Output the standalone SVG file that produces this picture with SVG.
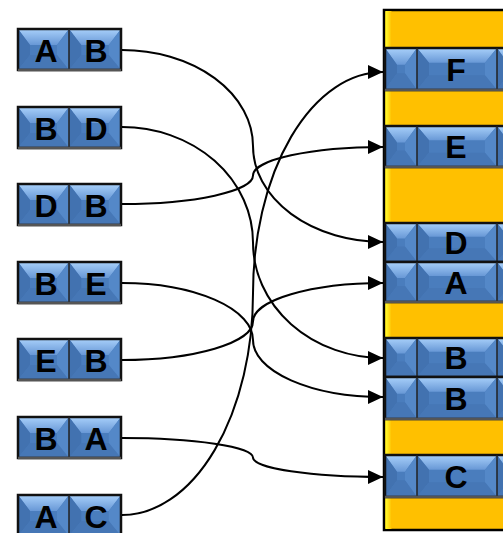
<svg xmlns="http://www.w3.org/2000/svg" width="503" height="533" viewBox="0 0 503 533">
<style>
.lbl{font-family:"Liberation Sans",Arial,sans-serif;font-weight:bold;font-size:32px;fill:#000;text-anchor:middle}
.con{fill:none;stroke:#000;stroke-width:2;marker-end:url(#ah)}
.out{fill:none;stroke:#111;stroke-width:2.5}
.sh{stroke:#555;stroke-width:2.5}
.div{stroke:#222;stroke-width:1.5}
</style>
<defs>
<linearGradient id="tg" x1="0" y1="0" x2="0" y2="1">
<stop offset="0" stop-color="#a8d0fa"/>
<stop offset="1" stop-color="#6898d6"/>
</linearGradient>
<linearGradient id="yg" x1="0" y1="0" x2="1" y2="0">
<stop offset="0" stop-color="#ffff30"/>
<stop offset="1" stop-color="#ffc000"/>
</linearGradient>
<marker id="ah" markerUnits="userSpaceOnUse" markerWidth="15" markerHeight="14" refX="15" refY="7" orient="auto">
<path d="M0,0 L15,7 L0,14 z" fill="#000"/>
</marker>
<symbol id="cL" viewBox="0 0 51 41" preserveAspectRatio="none">
<rect width="51" height="41" fill="#4a7dbd"/>
<polygon points="0,0 51,0 39,16 12,16" fill="url(#tg)"/>
<polygon points="0,0 12,16 12,26 0,41" fill="#4272b0"/>
<polygon points="51,0 39,16 39,26 51,41" fill="#5488c8"/>
<polygon points="0,41 12,26 39,26 51,41" fill="#4677b6"/>
</symbol>
<symbol id="cS" viewBox="0 0 32 40" preserveAspectRatio="none">
<rect width="32" height="40" fill="#4a7dbd"/>
<polygon points="0,0 32,0 20,16 12,16" fill="url(#tg)"/>
<polygon points="0,0 12,16 12,24 0,40" fill="#4272b0"/>
<polygon points="32,0 20,16 20,24 32,40" fill="#5488c8"/>
<polygon points="0,40 12,24 20,24 32,40" fill="#4677b6"/>
</symbol>
<symbol id="cB" viewBox="0 0 80 40" preserveAspectRatio="none">
<rect width="80" height="40" fill="#4a7dbd"/>
<polygon points="0,0 80,0 68,14 12,14" fill="url(#tg)"/>
<polygon points="0,0 12,14 12,26 0,40" fill="#4272b0"/>
<polygon points="80,0 68,14 68,26 80,40" fill="#5488c8"/>
<polygon points="0,40 12,26 68,26 80,40" fill="#4677b6"/>
</symbol>
</defs>

<g id="column">
<rect x="384" y="10" width="125" height="520" fill="#ffc000" stroke="#000" stroke-width="2.5"/>
<rect x="385.5" y="11" width="6" height="518" fill="url(#yg)"/>
</g>

<g id="r-F">
<use href="#cS" x="385" y="48" width="32" height="42"/>
<use href="#cB" x="417" y="48" width="80" height="42"/>
<use href="#cS" x="497" y="48" width="32" height="42"/>
<rect x="385" y="48" width="144" height="42" class="out"/>
<line x1="417" y1="48" x2="417" y2="90" class="div"/><line x1="497" y1="48" x2="497" y2="90" class="div"/>
<line x1="385" y1="90" x2="503" y2="90" class="sh"/>
<text x="456" y="81" class="lbl">F</text>
</g>
<g id="r-E">
<use href="#cS" x="385" y="126" width="32" height="41"/>
<use href="#cB" x="417" y="126" width="80" height="41"/>
<use href="#cS" x="497" y="126" width="32" height="41"/>
<rect x="385" y="126" width="144" height="41" class="out"/>
<line x1="417" y1="126" x2="417" y2="167" class="div"/><line x1="497" y1="126" x2="497" y2="167" class="div"/>
<line x1="385" y1="167" x2="503" y2="167" class="sh"/>
<text x="456" y="158" class="lbl">E</text>
</g>
<g id="r-D">
<use href="#cS" x="385" y="223" width="32" height="39"/>
<use href="#cB" x="417" y="223" width="80" height="39"/>
<use href="#cS" x="497" y="223" width="32" height="39"/>
<rect x="385" y="223" width="144" height="39" class="out"/>
<line x1="417" y1="223" x2="417" y2="262" class="div"/><line x1="497" y1="223" x2="497" y2="262" class="div"/>
<text x="456" y="254" class="lbl">D</text>
</g>
<g id="r-A">
<use href="#cS" x="385" y="262" width="32" height="40"/>
<use href="#cB" x="417" y="262" width="80" height="40"/>
<use href="#cS" x="497" y="262" width="32" height="40"/>
<rect x="385" y="262" width="144" height="40" class="out"/>
<line x1="417" y1="262" x2="417" y2="302" class="div"/><line x1="497" y1="262" x2="497" y2="302" class="div"/>
<line x1="385" y1="302" x2="503" y2="302" class="sh"/>
<text x="456" y="293.5" class="lbl">A</text>
</g>
<g id="r-B1">
<use href="#cS" x="385" y="338" width="32" height="39"/>
<use href="#cB" x="417" y="338" width="80" height="39"/>
<use href="#cS" x="497" y="338" width="32" height="39"/>
<rect x="385" y="338" width="144" height="39" class="out"/>
<line x1="417" y1="338" x2="417" y2="377" class="div"/><line x1="497" y1="338" x2="497" y2="377" class="div"/>
<text x="456" y="369" class="lbl">B</text>
</g>
<g id="r-B2">
<use href="#cS" x="385" y="377" width="32" height="42"/>
<use href="#cB" x="417" y="377" width="80" height="42"/>
<use href="#cS" x="497" y="377" width="32" height="42"/>
<rect x="385" y="377" width="144" height="42" class="out"/>
<line x1="417" y1="377" x2="417" y2="419" class="div"/><line x1="497" y1="377" x2="497" y2="419" class="div"/>
<line x1="385" y1="419" x2="503" y2="419" class="sh"/>
<text x="456" y="409.5" class="lbl">B</text>
</g>
<g id="r-C">
<use href="#cS" x="385" y="455" width="32" height="42"/>
<use href="#cB" x="417" y="455" width="80" height="42"/>
<use href="#cS" x="497" y="455" width="32" height="42"/>
<rect x="385" y="455" width="144" height="42" class="out"/>
<line x1="417" y1="455" x2="417" y2="497" class="div"/><line x1="497" y1="455" x2="497" y2="497" class="div"/>
<line x1="385" y1="497" x2="503" y2="497" class="sh"/>
<text x="456" y="487.5" class="lbl">C</text>
</g>

<g id="p-AB">
<use href="#cL" x="18" y="29" width="51" height="41"/><use href="#cL" x="69" y="29" width="52" height="41"/>
<rect x="18" y="29" width="103" height="41" class="out"/><line x1="69" y1="29" x2="69" y2="70" class="div"/>
<line x1="18" y1="70" x2="121" y2="70" class="sh"/>
<text x="46" y="62" class="lbl">A</text><text x="96" y="62" class="lbl">B</text>
</g>
<g id="p-BD">
<use href="#cL" x="18" y="107" width="51" height="41"/><use href="#cL" x="69" y="107" width="52" height="41"/>
<rect x="18" y="107" width="103" height="41" class="out"/><line x1="69" y1="107" x2="69" y2="148" class="div"/>
<line x1="18" y1="148" x2="121" y2="148" class="sh"/>
<text x="46" y="140" class="lbl">B</text><text x="96" y="140" class="lbl">D</text>
</g>
<g id="p-DB">
<use href="#cL" x="18" y="184" width="51" height="41"/><use href="#cL" x="69" y="184" width="52" height="41"/>
<rect x="18" y="184" width="103" height="41" class="out"/><line x1="69" y1="184" x2="69" y2="225" class="div"/>
<line x1="18" y1="225" x2="121" y2="225" class="sh"/>
<text x="46" y="217" class="lbl">D</text><text x="96" y="217" class="lbl">B</text>
</g>
<g id="p-BE">
<use href="#cL" x="18" y="262" width="51" height="41"/><use href="#cL" x="69" y="262" width="52" height="41"/>
<rect x="18" y="262" width="103" height="41" class="out"/><line x1="69" y1="262" x2="69" y2="303" class="div"/>
<line x1="18" y1="303" x2="121" y2="303" class="sh"/>
<text x="46" y="295" class="lbl">B</text><text x="96" y="295" class="lbl">E</text>
</g>
<g id="p-EB">
<use href="#cL" x="18" y="339" width="51" height="41"/><use href="#cL" x="69" y="339" width="52" height="41"/>
<rect x="18" y="339" width="103" height="41" class="out"/><line x1="69" y1="339" x2="69" y2="380" class="div"/>
<line x1="18" y1="380" x2="121" y2="380" class="sh"/>
<text x="46" y="372" class="lbl">E</text><text x="96" y="372" class="lbl">B</text>
</g>
<g id="p-BA">
<use href="#cL" x="18" y="417" width="51" height="41"/><use href="#cL" x="69" y="417" width="52" height="41"/>
<rect x="18" y="417" width="103" height="41" class="out"/><line x1="69" y1="417" x2="69" y2="458" class="div"/>
<line x1="18" y1="458" x2="121" y2="458" class="sh"/>
<text x="46" y="450" class="lbl">B</text><text x="96" y="450" class="lbl">A</text>
</g>
<g id="p-AC">
<use href="#cL" x="18" y="495" width="51" height="41"/><use href="#cL" x="69" y="495" width="52" height="41"/>
<rect x="18" y="495" width="103" height="41" class="out"/><line x1="69" y1="495" x2="69" y2="536" class="div"/>
<text x="46" y="528" class="lbl">A</text><text x="96" y="528" class="lbl">C</text>
</g>

<g id="connectors">
<path class="con" d="M122,50 A131,96 0 0 1 253,146 A130,96 0 0 0 383,242"/>
<path class="con" d="M122,127 A131,115.5 0 0 1 253,242.5 A130,115.5 0 0 0 383,358"/>
<path class="con" d="M122,204 A131,28.5 0 0 0 253,175.5 A130,28.5 0 0 1 383,147"/>
<path class="con" d="M122,283 A131,57 0 0 1 253,340 A130,57 0 0 0 383,397"/>
<path class="con" d="M122,360 A131,38.5 0 0 0 253,321.5 A130,38.5 0 0 1 383,283"/>
<path class="con" d="M122,438 A131,19.5 0 0 1 253,457.5 A130,19.5 0 0 0 383,477"/>
<path class="con" d="M122,515 A131,221.5 0 0 0 253,293.5 A130,221.5 0 0 1 383,72"/>
</g>
</svg>
